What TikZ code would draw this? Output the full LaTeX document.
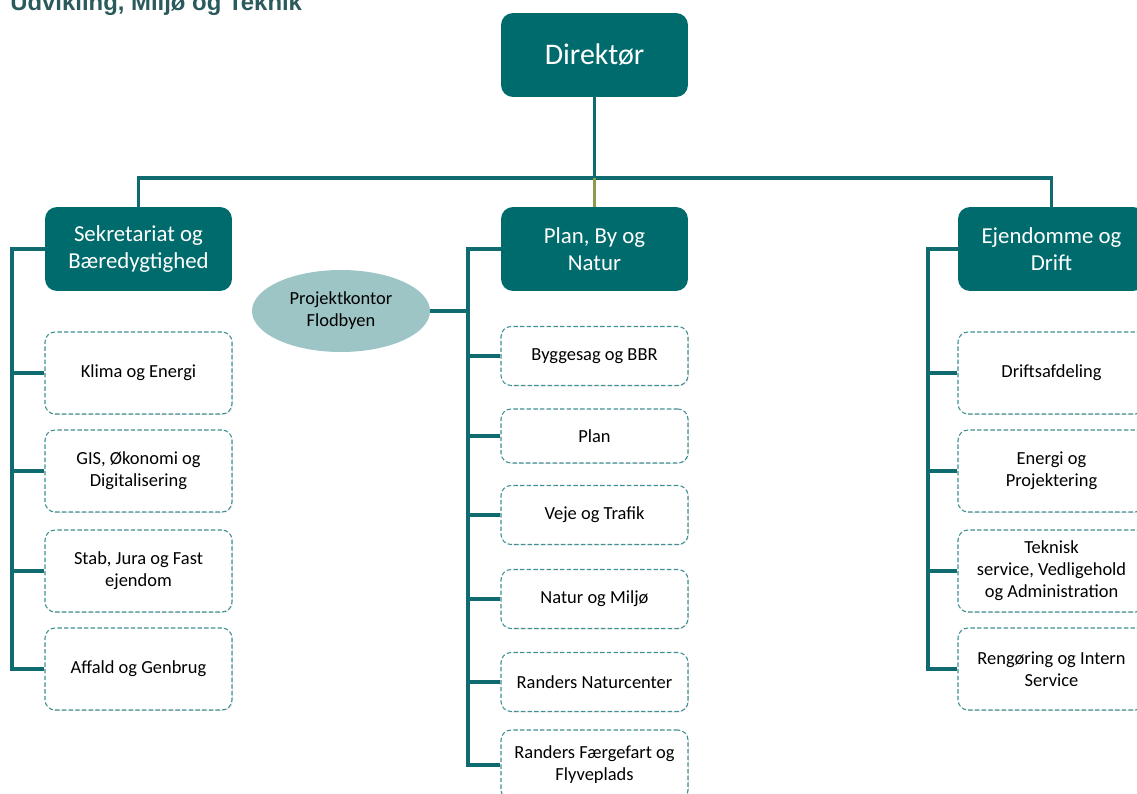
\documentclass[tikz,border=0pt]{standalone}
\usepackage{fontspec}
\setmainfont{Carlito}
\newfontfamily\titlefont{Liberation Sans}
\usetikzlibrary{shapes.geometric,shadows}

\definecolor{boxteal}{HTML}{006B6C}
\definecolor{lineteal}{HTML}{0F6B6F}
\definecolor{dashteal}{HTML}{3F9092}
\definecolor{projfill}{HTML}{9DC5C6}
\definecolor{olivelink}{HTML}{8E9A4E}
\definecolor{titleteal}{HTML}{2B5A5C}

\tikzset{
  boss/.style={fill=boxteal, text=white, rounded corners=0.24cm,
    minimum width=3.74cm, minimum height=1.68cm, inner sep=0pt,
    font=\fontsize{17}{20}\selectfont},
  dept/.style={fill=boxteal, text=white, rounded corners=0.24cm, align=center,
    minimum width=3.74cm, minimum height=1.68cm, inner sep=0pt,
    font=\fontsize{13}{15.3}\selectfont},
  unit/.style={draw=dashteal, fill=white, line width=0.6pt,
    dash pattern=on 2.5pt off 1.3pt, rounded corners=0.2cm, align=center,
    minimum width=3.74cm, minimum height=1.64cm, inner sep=0pt,
    drop shadow={shadow xshift=0.5pt, shadow yshift=-0.5pt, opacity=0.18},
    font=\fontsize{10.5}{12.5}\selectfont},
  small/.style={unit, minimum height=1.18cm},
  proj/.style={ellipse, fill=projfill, align=center, inner sep=0pt,
    minimum width=3.56cm, minimum height=1.64cm,
    font=\fontsize{10.5}{12.5}\selectfont},
  link/.style={draw=lineteal, line width=2pt},
}

\begin{document}
\begin{tikzpicture}[x=0.02cm, y=-0.02cm]
\useasboundingbox (0,0) rectangle (1137,794);

% title, cut at the top edge
\node[anchor=base west, inner sep=0pt, text=titleteal,
  font=\titlefont\bfseries\fontsize{13.6}{16}\selectfont] (title) at (10,11)
  {Udvikling, Miljø og Teknik};

% top levels
\node[boss] (dir) at (594.5,55) {Direktør};
\node[dept] (sek) at (138.5,249) {Sekretariat og\\Bæredygtighed};
\node[dept] (pbn) at (594.5,249) {Plan, By og\\Natur};
\node[dept] (ejd) at (1051.5,249) {Ejendomme og\\Drift};

\coordinate (bar) at (594.5,178);
\draw[link] (dir) -- (bar);
\draw[link] (sek.north) |- (bar) -| (ejd.north);
\draw[link, draw=olivelink] (bar) -- (pbn.north);

% left column
\node[unit] (klima) at (138.5,373) {Klima og Energi};
\node[unit] (gis) at (138.5,471) {GIS, Økonomi og\\Digitalisering};
\node[unit] (stab) at (138.5,571) {Stab, Jura og Fast\\ejendom};
\node[unit] (affald) at (138.5,669) {Affald og Genbrug};

\coordinate (lbus) at (12,249);
\draw[link] (sek.west) -- (lbus) |- (affald.west);
\foreach \n in {klima,gis,stab}
  \draw[link] (\n.west) -- (\n.west -| lbus);

% middle column
\node[proj] (pk) at (341,311) {Projektkontor\\Flodbyen};
\node[small] (bbr) at (594.5,356) {Byggesag og BBR};
\node[small, minimum height=1.08cm] (plan) at (594.5,436) {Plan};
\node[small] (veje) at (594.5,515) {Veje og Trafik};
\node[small] (natur) at (594.5,599) {Natur og Miljø};
\node[small] (nc) at (594.5,682) {Randers Naturcenter};
\node[unit, minimum height=1.4cm] (faerge) at (594.5,765) {Randers Færgefart og\\Flyveplads};

\coordinate (cbus) at (468,249);
\draw[link] (pbn.west) -- (cbus) |- (faerge.west);
\draw[link] (pk.east) -- (pk.east -| cbus);
\foreach \n in {bbr,plan,veje,natur,nc}
  \draw[link] (\n.west) -- (\n.west -| cbus);

% right column
\node[unit] (drift) at (1051.5,373) {Driftsafdeling};
\node[unit] (proj) at (1051.5,471) {Energi og\\Projektering};
\node[unit] (tek) at (1051.5,571) {Teknisk\\service, Vedligehold\\og Administration};
\node[unit] (reng) at (1051.5,669) {Rengøring og Intern\\Service};

\coordinate (rbus) at (928,249);
\draw[link] (ejd.west) -- (rbus) |- (reng.west);
\foreach \n in {drift,proj,tek}
  \draw[link] (\n.west) -- (\n.west -| rbus);
\end{tikzpicture}
\end{document}
